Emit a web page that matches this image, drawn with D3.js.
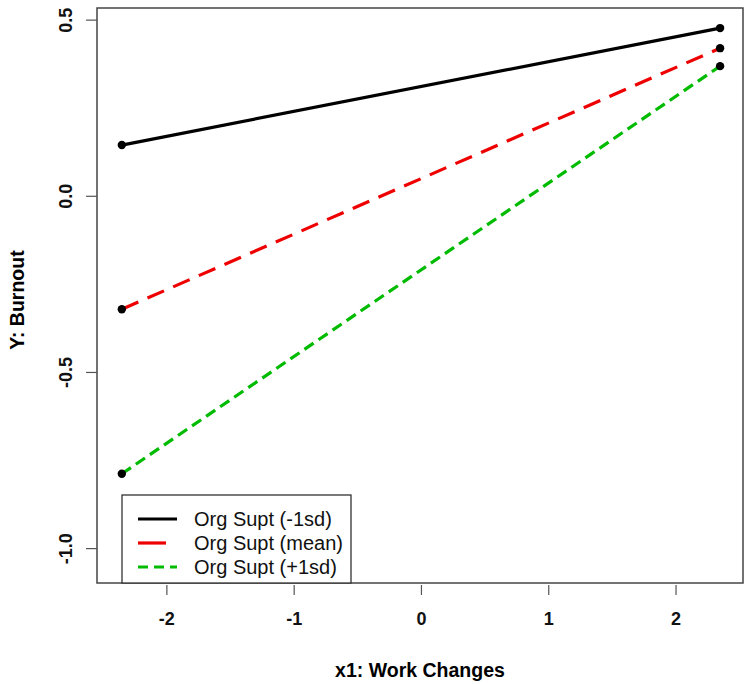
<!DOCTYPE html>
<html><head><meta charset="utf-8">
<script src="https://cdn.jsdelivr.net/npm/d3@7"></script>
<style>body{margin:0;background:#fff}svg{display:block}text{font-family:"Liberation Sans",Arial,sans-serif}</style>
</head><body>
<svg id="c" width="750" height="684"></svg>
<script>
const xValues = [-2.35, 2.35];
const seriesNames = ["Org Supt (-1sd)", "Org Supt (mean)", "Org Supt (+1sd)"];
const seriesLow = [0.144, 0.476];
const seriesMean = [-0.322, 0.419];
const seriesHigh = [-0.789, 0.368];
const seriesColors = ["#000000", "#ee0000", "#00bb00"];
const seriesDash = [null, "18,10", "11,6"];
const xTicks = [-2, -1, 0, 1, 2];
const yTicks = [0.5, 0.0, -0.5, -1.0];

const svg = d3.select("#c");
const L = 97, R = 743, T = 8, B = 583;
const x = d3.scaleLinear().domain([-2.545, 2.53]).range([L, R]);
const y = d3.scaleLinear().domain([-1.099, 0.533]).range([B, T]);
const hy = f => (v => f(v).replace("\u2212", "-"));

const series = [seriesLow, seriesMean, seriesHigh];

// box
svg.append("rect").attr("x", L).attr("y", T).attr("width", R - L).attr("height", B - T)
  .attr("fill", "none").attr("stroke", "#444").attr("stroke-width", 1.5);

// y axis
const ya = svg.append("g").attr("transform", `translate(${L},0)`)
  .call(d3.axisLeft(y).tickValues(yTicks).tickSize(11).tickFormat(hy(d3.format(".1f"))));
ya.select(".domain").remove();
ya.selectAll("line").attr("stroke", "#555").attr("stroke-width", 1.2);
ya.selectAll("text").attr("font-size", 18).attr("font-weight", "bold").attr("fill", "#111")
  .attr("x", 0).attr("y", 0).attr("dy", null).attr("text-anchor", "middle")
  .attr("transform", "translate(-25,0) rotate(-90)");

// x axis
const xa = svg.append("g").attr("transform", `translate(0,${B})`)
  .call(d3.axisBottom(x).tickValues(xTicks).tickSize(12).tickFormat(hy(d3.format("d"))));
xa.select(".domain").remove();
xa.selectAll("line").attr("stroke", "#555").attr("stroke-width", 1.2).attr("y1", 2);
xa.selectAll("text").attr("font-size", 18).attr("font-weight", "bold").attr("fill", "#111")
  .attr("y", 42).attr("dy", null);

// titles
svg.append("text").attr("x", 420).attr("y", 677).attr("text-anchor", "middle")
  .attr("font-size", 19.5).attr("font-weight", "bold").text("x1: Work Changes");
svg.append("text").attr("transform", "translate(24,300) rotate(-90)").attr("text-anchor", "middle")
  .attr("font-size", 19.5).attr("font-weight", "bold").text("Y: Burnout");

// lines
const line = d3.line().x((d, i) => x(xValues[i])).y(d => y(d));
series.forEach((s, k) => {
  svg.append("path").datum(s).attr("d", line).attr("fill", "none")
    .attr("stroke", seriesColors[k]).attr("stroke-width", 3.2)
    .attr("stroke-dasharray", seriesDash[k]);
});
series.forEach(s => {
  svg.selectAll(null).data(s).enter().append("circle")
    .attr("cx", (d, i) => x(xValues[i])).attr("cy", d => y(d)).attr("r", 4.2).attr("fill", "#000");
});

// legend
const lg = svg.append("g");
lg.append("rect").attr("x", 122).attr("y", 495).attr("width", 229).attr("height", B - 495)
  .attr("fill", "#fff").attr("stroke", "#333").attr("stroke-width", 1.3);
const legDash = [null, "28,40", "10,6"];
seriesNames.forEach((n, k) => {
  const yy = 519 + k * 24;
  lg.append("line").attr("x1", 138).attr("x2", 177).attr("y1", yy).attr("y2", yy)
    .attr("stroke", seriesColors[k]).attr("stroke-width", 3.2).attr("stroke-dasharray", legDash[k]);
  lg.append("text").attr("x", 194).attr("y", yy).attr("dy", "0.35em").attr("font-size", 20)
    .attr("fill", "#111").text(n);
});
</script>
</body></html>
